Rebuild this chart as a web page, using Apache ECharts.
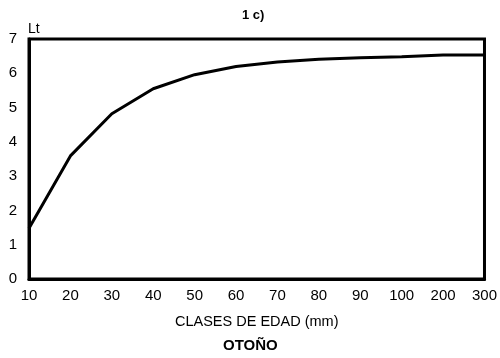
<!DOCTYPE html>
<html>
<head>
<meta charset="utf-8">
<script src="https://cdn.jsdelivr.net/npm/echarts@6/dist/echarts.min.js"></script>
<style>
  html, body { margin: 0; padding: 0; background: #fff; }
  #chart { width: 500px; height: 358px; }
</style>
</head>
<body>
<div id="chart"></div>
<script>
// Age classes (mm) and mean length per class
const ageClasses = ['10', '20', '30', '40', '50', '60', '70', '80', '90', '100', '200', '300'];
const lengthValues = [1.48, 3.59, 4.82, 5.55, 5.96, 6.2, 6.33, 6.41, 6.45, 6.48, 6.53, 6.53];
const yTicks = { min: 0, max: 7, interval: 1 };

const FONT = '"Liberation Sans", Arial, sans-serif';
const chart = echarts.init(document.getElementById('chart'), null, { renderer: 'canvas' });

chart.setOption({
  animation: false,
  backgroundColor: '#fff',
  grid: {
    left: 29, right: 11, top: 39, bottom: 79,
    show: true, borderColor: '#000', borderWidth: 3, backgroundColor: 'transparent'
  },
  graphic: [
    {
      type: 'text', left: 242, top: 9,
      style: { text: '1 c)', font: 'bold 13px ' + FONT, fill: '#000' }
    },
    {
      type: 'text', left: 223, top: 338,
      style: { text: 'OTOÑO', font: 'bold 15px ' + FONT, fill: '#000' }
    }
  ],
  xAxis: {
    type: 'category',
    data: ageClasses,
    boundaryGap: false,
    name: 'CLASES DE EDAD (mm)',
    nameLocation: 'middle',
    nameGap: 35,
    nameTextStyle: { fontFamily: FONT, fontSize: 14.5, color: '#000' },
    axisLine: { show: true, lineStyle: { color: '#000', width: 3 } },
    axisTick: { show: false },
    axisLabel: { fontFamily: FONT, fontSize: 15, color: '#000', margin: 9, interval: 0 },
    splitLine: { show: false }
  },
  yAxis: {
    type: 'value',
    min: yTicks.min, max: yTicks.max, interval: yTicks.interval,
    name: 'Lt',
    nameLocation: 'end',
    nameGap: 3,
    nameTextStyle: { fontFamily: FONT, fontSize: 14, color: '#000', align: 'left', padding: [0, 0, 0, -1] },
    axisLine: { show: true, lineStyle: { color: '#000', width: 3 } },
    axisTick: { show: false },
    axisLabel: { fontFamily: FONT, fontSize: 15, color: '#000', margin: 12 },
    splitLine: { show: false }
  },
  series: [{
    type: 'line',
    data: lengthValues,
    symbol: 'none',
    smooth: false,
    lineStyle: { color: '#000', width: 3 }
  }]
});
</script>
</body>
</html>
